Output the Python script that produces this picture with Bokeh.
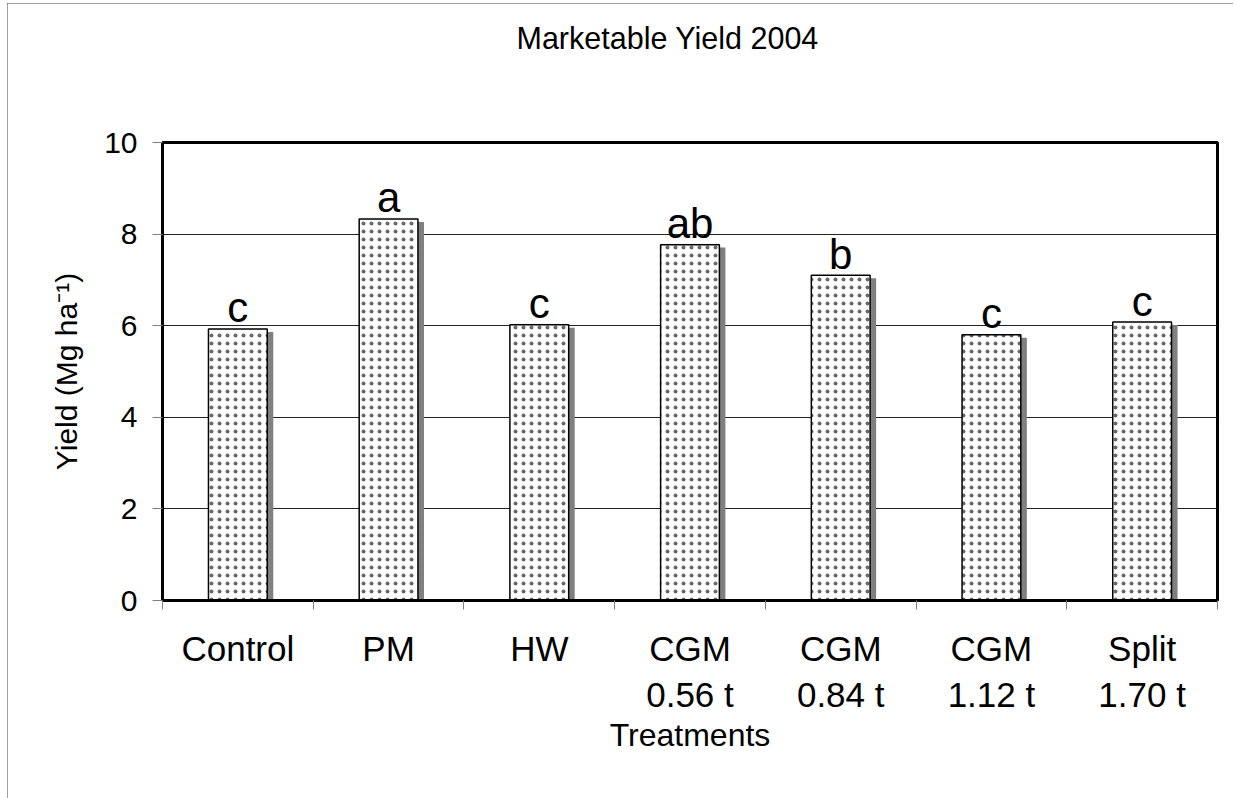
from bokeh.plotting import figure
from bokeh.models import Range1d, FixedTicker, ColumnDataSource, Spacer, Title
from bokeh.layouts import column, row
from bokeh.transform import dodge
from bokeh.embed import file_html
from bokeh.resources import INLINE
from bokeh.core.properties import value

# ---- data ----
treatments = ["Control", "PM", "HW", "CGM\n0.56 t", "CGM\n0.84 t", "CGM\n1.12 t", "Split\n1.70 t"]
yield_vals = [5.93, 8.33, 6.02, 7.77, 7.10, 5.80, 6.08]
letters = ["c", "a", "c", "ab", "b", "c", "c"]
y_ticks = [0, 2, 4, 6, 8, 10]
title_text = "Marketable Yield 2004"
x_label = "Treatments"
y_label = "Yield (Mg ha\u207b\u00b9)"

FONT = "Liberation Sans"
n = len(treatments)
pos = [i + 0.5 for i in range(n)]
src = ColumnDataSource(dict(x=pos, top=yield_vals, letter=letters))

p = figure(width=1226, height=795,
           min_border_left=155, min_border_right=16,
           min_border_top=139, min_border_bottom=198,
           x_range=Range1d(0, n), y_range=Range1d(0, 10),
           output_backend="svg", toolbar_location=None, tools="")
p.background_fill_color = "white"
p.border_fill_color = "white"
p.outline_line_color = "black"
p.outline_line_width = 3
p.styles = {"outline": "1px solid #808080", "outline-offset": "-1px"}
p.title.text = ""

# spacer title (closest to the frame) and the real title above it
p.add_layout(Title(text=" ", standoff=56, text_font=FONT, text_font_size="10px",
                   text_color="white"), "above")
p.add_layout(Title(text=title_text, align="left", offset=354, standoff=34,
                   vertical_align="top",
                   text_font=FONT, text_font_size="30.5px", text_font_style="normal",
                   text_color="black"), "above")

# shadows
p.vbar(x=dodge("x", 0.04), top=dodge("top", -0.065), bottom=-1, width=0.39,
       fill_color="#808080", line_color=None, source=src)
# bars
p.vbar(x="x", top="top", bottom=0, width=0.39, fill_color="white",
       line_color="black", line_width=1.5,
       hatch_pattern="dot", hatch_color="#6a6a6a", hatch_scale=8, hatch_weight=0.5,
       source=src)
# significance letters
p.text(x="x", y="top", text="letter", text_align="center", text_baseline="alphabetic",
       y_offset=-21, text_font=value(FONT), text_font_size="42px", text_color="black",
       source=src)

# x axis
xa = p.xaxis[0]
xa.ticker = FixedTicker(ticks=pos, minor_ticks=list(range(n + 1)))
xa.major_label_overrides = {pos[i]: treatments[i] for i in range(n)}
xa.major_tick_line_color = None
xa.major_tick_out = 0
xa.major_tick_in = 0
xa.minor_tick_line_color = "#808080"
xa.minor_tick_out = 9
xa.minor_tick_in = 0
xa.axis_line_color = "black"
xa.axis_line_width = 3
xa.major_label_text_font = FONT
xa.major_label_text_font_size = "35px"
xa.major_label_text_color = "black"
xa.major_label_standoff = 19
xa.axis_label = x_label
xa.axis_label_text_font = FONT
xa.axis_label_text_font_size = "32px"
xa.axis_label_text_font_style = "normal"
xa.axis_label_text_color = "black"
xa.axis_label_standoff = 0

# y axis
ya = p.yaxis[0]
ya.ticker = FixedTicker(ticks=y_ticks, minor_ticks=[])
ya.major_tick_out = 10
ya.major_tick_in = 0
ya.major_tick_line_color = "#808080"
ya.minor_tick_line_color = None
ya.axis_line_color = "black"
ya.axis_line_width = 3
ya.major_label_text_font = FONT
ya.major_label_text_font_size = "30px"
ya.major_label_text_color = "black"
ya.major_label_standoff = 15
ya.axis_label = y_label
ya.axis_label_text_font = FONT
ya.axis_label_text_font_size = "30px"
ya.axis_label_text_font_style = "normal"
ya.axis_label_text_color = "black"
ya.axis_label_standoff = 18

p.xgrid.grid_line_color = None
p.ygrid.grid_line_color = "#222222"
p.ygrid.grid_line_width = 1

layout = column(Spacer(width=1233, height=3), row(Spacer(width=7, height=795), p))
open("out.html", "w").write(file_html(layout, INLINE))
